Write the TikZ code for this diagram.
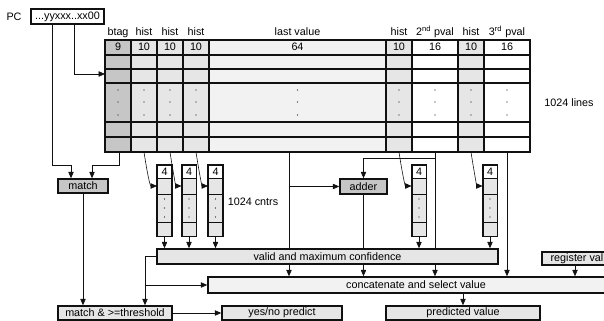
\documentclass[tikz,border=0pt]{standalone}
\usepackage{fontspec}
\setmainfont{Liberation Sans}
\usetikzlibrary{arrows.meta,backgrounds}
\definecolor{hell}{HTML}{E6E6E6}
\definecolor{sehrhell}{HTML}{F2F2F2}
\definecolor{mittel}{HTML}{C6C6C6}
\definecolor{rand}{HTML}{111111}
\tikzset{
  pfeil/.style={-{Triangle[length=1.9mm,width=1.6mm]},rand,line width=0.5pt},
  kasten/.style={draw=rand,fill=hell,line width=1.3pt,inner sep=0pt,font=\fontsize{9.2}{10}\selectfont},
  kastend/.style={kasten,fill=mittel},
  zelle/.style={draw=rand,fill=hell,line width=0.8pt,inner sep=0pt,minimum width=0.42cm,font=\fontsize{9.2}{10}\selectfont},
  gitter/.style={rand,line width=0.9pt},
  rahmen/.style={rand,line width=1.6pt},
  kopf/.style={font=\fontsize{9.2}{10}\selectfont,anchor=base,inner sep=0pt},
}

\begin{document}
\begin{tikzpicture}[x=0.03cm,y=-0.03cm]
  \useasboundingbox (0,0) rectangle (604,321);
  % table
  \fill[mittel] (105,40) rectangle (131,152);
  \fill[hell] (131,40) rectangle (209,152);
  \fill[sehrhell] (209,40) rectangle (386,152);
  \fill[hell] (386,40) rectangle (412,152);
  \fill[hell] (458,40) rectangle (484,152);
  \foreach \y in {55,69,83,122,137} \draw[gitter] (105,\y) -- (530,\y);
  \foreach \x in {131,157,183,412,484} \draw[gitter] (\x,40) -- (\x,152);
  \foreach \x in {209,386,458} \draw[rahmen] (\x,40) -- (\x,152);
  \draw[rahmen] (105,40) rectangle (530,152);
  \foreach \x/\n/\k [count=\i] in {118/9/btag,144/10/hist,170/10/hist,196/10/hist,297.5/64/last value,
      399/10/hist,435/16/{2\textsuperscript{nd} pval},471/10/hist,507/16/{3\textsuperscript{rd} pval}} {
    \node[kopf] (kopf\i) at (\x,36) {\k};
    \node[kopf] (breite\i) at (\x,51) {\n};
    \foreach \y in {90,102,115} \fill[rand] (\x,\y) circle (0.45pt);
  }
  \node[kopf,anchor=center] (zeilen) at (569,103) {1024 lines};
  \node[kopf,anchor=center] (pclab) at (14,17) {PC};
  \node[kasten,fill=white,minimum width=2.19cm,minimum height=0.45cm] (pc) at (67.5,16.5) {...yyxxx..xx00};
  \coordinate (tin) at (105,74);
  \coordinate (btagb) at (119,152);
  \coordinate (lvb) at (289,152);
  \coordinate (pv2) at (435,152);
  \coordinate (abz) at (435,158);
  \coordinate (pv3) at (507,152);
  \coordinate (pcx1) at (52,0);
  \coordinate (pcx2) at (74,0);
  \coordinate (m1) at (71,165);
  \coordinate (m2) at (92,165);
  \coordinate (vx) at (145,0);
  \coordinate (regx) at (575,0);
  % counters
  \foreach \n/\cx/\x in {1/164.5/144,2/189/170,3/215.5/196,4/419/399,5/490/471} {
    \node[zelle,fill=white,minimum height=0.39cm] (za\n) at (\cx,171.5) {4};
    \node[zelle,minimum height=0.48cm] (zb\n) at (\cx,186) {};
    \node[zelle,minimum height=0.84cm] (zc\n) at (\cx,208) {};
    \node[zelle,minimum height=0.42cm] (zd\n) at (\cx,229) {};
    \draw[rahmen,line width=1.3pt] (za\n.north west) rectangle (zd\n.south east);
    \foreach \y in {199,208,217} \fill[rand] (\cx,\y) circle (0.45pt);
    \coordinate (hb\n) at (\x,152);
    \draw[pfeil] (hb\n) .. controls (\x+3,172) and (\x+6,186) .. (zb\n.west);
  }
  \node[kopf,anchor=center] (cntr) at (253,202) {1024 cntrs};
  % boxes
  \node[kastend,minimum width=1.5cm,minimum height=0.42cm] (match) at (83,186) {match};
  \node[kastend,minimum width=1.41cm,minimum height=0.45cm] (adder) at (363.5,186.5) {adder};
  \node[kasten,minimum width=10.23cm,minimum height=0.45cm] (valid) at (327.5,256.5) {valid and maximum confidence};
  \node[kasten,minimum width=2.1cm,minimum height=0.39cm] (reg) at (577,258.5) {register val};
  \node[kasten,fill=sehrhell,minimum width=12.48cm,minimum height=0.48cm] (concat) at (416,285) {concatenate and select value};
  \node[kasten,minimum width=3.42cm,minimum height=0.42cm] (mthr) at (115,313) {match \& >=threshold};
  \node[kasten,minimum width=3.6cm,minimum height=0.42cm] (yesno) at (282,313) {yes/no predict};
  \node[kasten,minimum width=4.62cm,minimum height=0.42cm] (pred) at (463,313) {predicted value};
  % connectors
  \draw[pfeil] (pcx2 |- pc.south) |- (tin);
  \draw[pfeil] (pcx1 |- pc.south) |- (m1) -- (m1 |- match.north);
  \draw[pfeil] (btagb) |- (m2) -- (m2 |- match.north);
  \draw[pfeil] (match.south) -- (match.south |- mthr.north);
  \draw[pfeil] (mthr.east) -- (yesno.west);
  \foreach \n in {1,...,5} \draw[pfeil] (zd\n.south) -- (zd\n.south |- valid.north);
  \begin{scope}[on background layer]
    \draw[pfeil] (lvb) -- (lvb |- concat.north);
    \draw[pfeil] (adder.south) -- (adder.south |- concat.north);
    \draw[pfeil] (pv2) -- (pv2 |- concat.north);
  \end{scope}
  \draw[pfeil] (lvb |- adder) -- (adder.west);
  \draw[pfeil] (abz) -| (adder.north);
  \draw[pfeil] (pv3) -- (pv3 |- concat.north);
  \draw[pfeil] (regx |- reg.south) -- (regx |- concat.north);
  \draw[pfeil] (valid.west) -| (vx |- mthr.north);
  \draw[pfeil] (vx |- concat.west) -- (concat.west);
  \draw[pfeil] (pred.north |- concat.south) -- (pred.north);
\end{tikzpicture}
\end{document}
